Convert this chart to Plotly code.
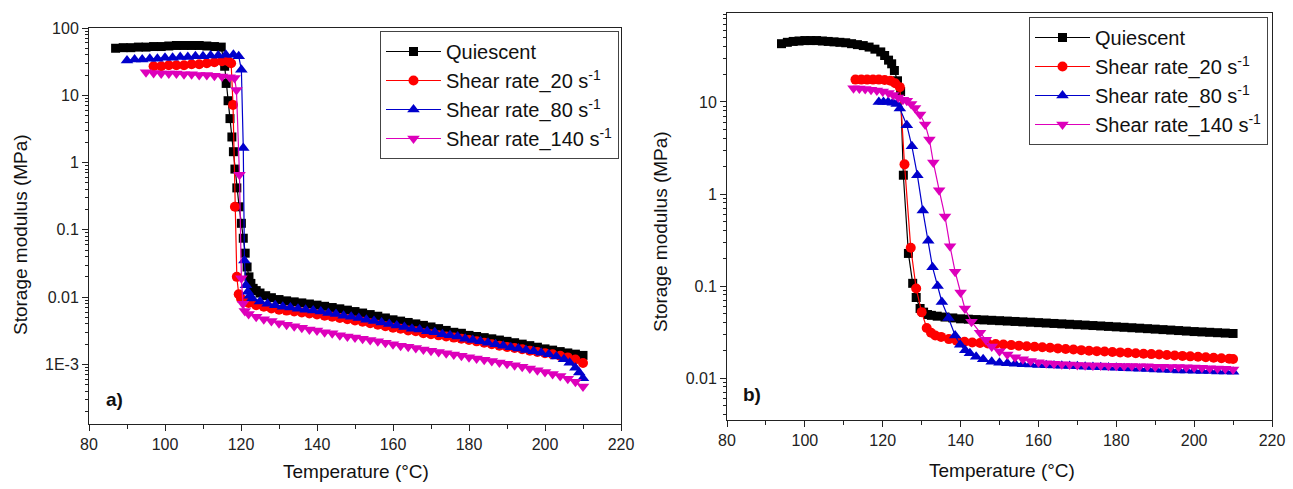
import plotly.graph_objects as go

# ---------------- Panel a) ----------------
qa_T = [87, 89, 91, 93, 95, 97, 99, 101, 103, 105, 107, 109, 111, 113, 114.8,
        115.7, 116.1, 116.6, 117.1, 117.6, 118.0, 118.4, 118.9, 119.5, 120.1,
        120.6, 121.1, 121.6, 122.1, 122.6, 123.2, 124, 125, 126.5, 128, 130,
        132, 134, 136, 138, 140, 142, 144, 146, 148, 150, 152, 154, 156, 158,
        160, 162, 164, 166, 168, 170, 172, 174, 176, 178, 180, 182, 184, 186,
        188, 190, 192, 194, 196, 198, 200, 202, 204, 206, 208, 210]
qa_G = [50, 51, 51, 52, 52, 53, 53, 54, 55, 55, 55, 55, 54, 53, 52,
        27, 15, 8.3, 4.5, 2.4, 1.45, 0.8, 0.42, 0.22, 0.125,
        0.075, 0.045, 0.028, 0.02, 0.016, 0.0135, 0.0125, 0.0115, 0.0105, 0.0098, 0.0092,
        0.0088, 0.0085, 0.0082, 0.0079, 0.0076, 0.0073, 0.0070, 0.0067, 0.0064, 0.0061, 0.0058, 0.0055, 0.0052, 0.0049,
        0.0046, 0.0044, 0.0042, 0.0040, 0.0038, 0.0036, 0.0034, 0.0032, 0.0030, 0.0029, 0.0027, 0.0026, 0.0025, 0.0024,
        0.0023, 0.0022, 0.0021, 0.0020, 0.0019, 0.0018, 0.0017, 0.00163, 0.00155, 0.00148, 0.00142, 0.00136]

ra_T = [97, 99, 101, 103, 105, 107, 109, 111, 113, 115, 116.6, 117.4, 117.9,
        118.4, 118.9, 119.4, 120.0, 121, 122, 124, 126, 128, 130, 132, 134,
        136, 138, 140, 142, 144, 146, 148, 150, 152, 154, 156, 158, 160, 162,
        164, 166, 168, 170, 172, 174, 176, 178, 180, 182, 184, 186, 188, 190,
        192, 194, 196, 198, 200, 202, 204, 206, 208, 210]
ra_G = [27, 27, 28, 28, 28, 29, 29, 30, 31, 32, 32, 30, 7.2,
        0.22, 0.020, 0.011, 0.0095, 0.0088, 0.0082, 0.0076, 0.0072, 0.0068, 0.0065, 0.0063, 0.0061,
        0.0059, 0.0057, 0.0055, 0.0053, 0.0051, 0.0049, 0.0047, 0.0045, 0.0043, 0.0041, 0.0039, 0.0037, 0.0035, 0.0034,
        0.0032, 0.0031, 0.0029, 0.0028, 0.0027, 0.0026, 0.0025, 0.0024, 0.0023, 0.0022, 0.0021, 0.0020, 0.0019, 0.00182,
        0.00175, 0.00168, 0.0016, 0.00153, 0.00147, 0.00141, 0.00134, 0.00127, 0.00118, 0.00105]

ba_T = [90, 92, 94, 96, 98, 100, 102, 104, 106, 108, 110, 112, 114, 116, 118,
        119.4, 120.1, 120.6, 120.9, 121.3, 121.8, 122.3, 123, 125, 127, 129,
        131, 133, 135, 137, 139, 141, 143, 145, 147, 149, 151, 153, 155, 157,
        159, 161, 163, 165, 167, 169, 171, 173, 175, 177, 179, 181, 183, 185,
        187, 189, 191, 193, 195, 197, 199, 201, 203, 205, 206.5, 208, 209, 210]
ba_G = [33, 34, 34, 35, 35, 36, 36, 37, 37, 38, 38, 39, 39, 40, 40,
        38, 24, 1.65, 0.035, 0.015, 0.012, 0.0105, 0.0095, 0.0086, 0.0080, 0.0076,
        0.0072, 0.0070, 0.0067, 0.0065, 0.0063, 0.0061, 0.0058, 0.0056, 0.0053, 0.0051, 0.0049, 0.0046, 0.0044, 0.0042,
        0.0040, 0.0038, 0.0036, 0.0034, 0.0033, 0.0031, 0.0030, 0.0028, 0.0027, 0.0026, 0.0024, 0.0023, 0.0022, 0.0021,
        0.0020, 0.0019, 0.0018, 0.00172, 0.00164, 0.00157, 0.00149, 0.00141, 0.00131, 0.00119, 0.00106, 0.00089, 0.00076, 0.00062]

ma_T = [95, 97, 99, 101, 103, 105, 107, 109, 111, 113, 115, 117, 118.3, 118.8,
        119.6, 120.1, 120.5, 121, 122, 124, 126, 128, 130, 132, 134, 136, 138,
        140, 142, 144, 146, 148, 150, 152, 154, 156, 158, 160, 162, 164, 166,
        168, 170, 172, 174, 176, 178, 180, 182, 184, 186, 188, 190, 192, 194,
        196, 198, 200, 202, 204, 206, 208, 210]
ma_G = [22, 21.5, 21, 21, 21, 20.5, 20.5, 20, 20, 19.5, 19, 18.5, 18, 12,
        0.66, 0.019, 0.0080, 0.0062, 0.0056, 0.0051, 0.0047, 0.0044, 0.0041, 0.0039, 0.0037, 0.0035, 0.0033,
        0.0032, 0.0030, 0.0029, 0.0027, 0.0026, 0.0025, 0.0024, 0.0023, 0.0022, 0.0021, 0.0020, 0.0019, 0.00183, 0.00175,
        0.00167, 0.0016, 0.00153, 0.00146, 0.0014, 0.00134, 0.00128, 0.00122, 0.00117, 0.00112, 0.00107, 0.00102, 0.00097, 0.00092,
        0.00087, 0.00082, 0.00077, 0.00072, 0.00067, 0.00061, 0.00055, 0.00047]

# ---------------- Panel b) ----------------
qb_T = [94, 95.5, 97, 98.5, 100, 101.5, 103, 104.5, 106, 107.5, 109, 110.5, 112,
        113.5, 115, 116.5, 118, 119.5, 120.5, 121.5, 122.3, 123.0, 123.8, 124.6,
        125.3, 126.6, 127.7, 128.6, 129.6, 130.5, 131.5, 132.5, 134, 136, 138, 140,
        142, 144, 146, 148, 150, 152, 154, 156, 158, 160, 162, 164, 166, 168, 170,
        172, 174, 176, 178, 180, 182, 184, 186, 188, 190, 192, 194, 196, 198, 200,
        202, 204, 206, 208, 210]
qb_G = [43, 44.5, 45.5, 46, 46.5, 46.5, 46.5, 46, 45.5, 45, 44.5, 44, 43,
        42, 41, 39.5, 37.5, 35, 32, 28.5, 26, 22, 17, 13,
        1.6, 0.226, 0.107, 0.075, 0.057, 0.052, 0.049, 0.048, 0.047, 0.046, 0.045, 0.044,
        0.0436, 0.0432, 0.0428, 0.0424, 0.042, 0.0416, 0.0412, 0.0408, 0.0404, 0.040, 0.0396, 0.0392, 0.0388, 0.0384, 0.038,
        0.0376, 0.0372, 0.0368, 0.0364, 0.036, 0.0356, 0.0352, 0.0348, 0.0344, 0.034, 0.0336, 0.0332, 0.0328, 0.0324, 0.032,
        0.0317, 0.0314, 0.0311, 0.0308, 0.0305]

rb_T = [113, 114.5, 116, 117.5, 119, 120.5, 122, 123.2, 124.4, 125.6, 127.2,
        128.6, 130, 131.3, 132.4, 133.5, 135, 137, 139, 141, 143, 145, 147, 149,
        151, 153, 155, 157, 159, 161, 163, 165, 167, 169, 171, 173, 175, 177,
        179, 181, 183, 185, 187, 189, 191, 193, 195, 197, 199, 201, 203, 205,
        207, 209, 210]
rb_G = [17.5, 17.5, 17.5, 17.5, 17.5, 17.3, 17, 16, 14.5, 2.1, 0.26,
        0.094, 0.052, 0.035, 0.031, 0.029, 0.028, 0.0265, 0.0255, 0.0248, 0.0243, 0.024, 0.0237, 0.0234,
        0.0231, 0.0228, 0.0225, 0.0222, 0.0219, 0.0216, 0.0213, 0.021, 0.0207, 0.0204, 0.0201, 0.0198, 0.0196, 0.0194,
        0.0192, 0.019, 0.0188, 0.0186, 0.0184, 0.0182, 0.018, 0.0178, 0.0176, 0.0174, 0.0172, 0.017, 0.0168, 0.0166,
        0.0164, 0.0162, 0.0161]

bb_T = [119, 120.2, 121.4, 122.6, 123.6, 124.4, 126.2, 127.5, 128.9, 130.3,
        131.7, 132.8, 134.1, 135.2, 136.9, 138.6, 139.9, 141.2, 142.4, 144,
        145.8, 148, 150, 152, 154, 156, 158, 160, 162, 164, 166, 168, 170, 172,
        174, 176, 178, 180, 182, 184, 186, 188, 190, 192, 194, 196, 198, 200,
        202, 204, 206, 208, 210]
bb_G = [10, 10, 10, 9.8, 9.5, 8.5, 5.6, 3.3, 1.6, 0.66,
        0.31, 0.16, 0.10, 0.067, 0.045, 0.029, 0.023, 0.020, 0.0186, 0.017,
        0.016, 0.015, 0.0147, 0.0145, 0.0143, 0.0141, 0.014, 0.0139, 0.0138, 0.0137, 0.0136, 0.0135, 0.0134, 0.0133,
        0.0132, 0.0131, 0.013, 0.0129, 0.0128, 0.0127, 0.0126, 0.0125, 0.0124, 0.0123, 0.0122, 0.0121, 0.0121, 0.012,
        0.0119, 0.0119, 0.0118, 0.0118, 0.0117]

mb_T = [112.5, 114, 115.5, 117, 118.5, 120, 121.5, 122.7, 124, 125.2, 126.2,
        127.3, 128.3, 129.6, 130.9, 132.0, 133.0, 134.5, 136.0, 137.3, 138.6,
        140.0, 141.1, 142.8, 145, 146.5, 148, 150, 152, 154, 156, 158, 160, 162,
        164, 166, 168, 170, 172, 174, 176, 178, 180, 182, 184, 186, 188, 190,
        192, 194, 196, 198, 200, 202, 204, 206, 208, 210]
mb_G = [14.1, 14, 13.8, 13.6, 13.3, 13, 12.5, 11.9, 11.2, 10.6, 10.3,
        9.5, 8.6, 7.3, 5.7, 3.9, 2.2, 1.1, 0.57, 0.27, 0.143,
        0.085, 0.057, 0.041, 0.031, 0.026, 0.022, 0.0195, 0.018, 0.0168, 0.016, 0.0153, 0.0148, 0.0145,
        0.0143, 0.0141, 0.014, 0.0139, 0.0138, 0.0137, 0.0137, 0.0136, 0.0136, 0.0135, 0.0135, 0.0134, 0.0134, 0.0133,
        0.0133, 0.0132, 0.0132, 0.0131, 0.013, 0.0129, 0.0128, 0.0127, 0.0126, 0.0124]

names = ["Quiescent", "Shear rate_20 s<sup>-1</sup>", "Shear rate_80 s<sup>-1</sup>",
         "Shear rate_140 s<sup>-1</sup>"]
colors = ["#000000", "#FF0000", "#0000CC", "#DD00BB"]
symbols = ["square", "circle", "triangle-up", "triangle-down"]
msizes = [9, 10, 11, 11]

W, H = 1293, 489
FONT = "Arial, 'Liberation Sans', sans-serif"


def px_x(p):
    return p / W


def px_y(p):
    return 1 - p / H


fig = go.Figure()
panel_a = [(qa_T, qa_G), (ra_T, ra_G), (ba_T, ba_G), (ma_T, ma_G)]
panel_b = [(qb_T, qb_G), (rb_T, rb_G), (bb_T, bb_G), (mb_T, mb_G)]

for i, (t, g) in enumerate(panel_a):
    fig.add_trace(go.Scatter(x=t, y=g, name=names[i], mode="lines+markers",
                             line=dict(color=colors[i], width=1.2),
                             marker=dict(symbol=symbols[i], size=msizes[i], color=colors[i]),
                             xaxis="x", yaxis="y", legend="legend"))
for i, (t, g) in enumerate(panel_b):
    fig.add_trace(go.Scatter(x=t, y=g, name=names[i], mode="lines+markers",
                             line=dict(color=colors[i], width=1.2),
                             marker=dict(symbol=symbols[i], size=msizes[i], color=colors[i]),
                             xaxis="x2", yaxis="y2", legend="legend2"))

axcol = "#222222"
minor_y = [m * 10 ** e for e in range(-5, 3) for m in range(2, 10)]

xcommon = dict(range=[80, 220], tick0=80, dtick=20, ticks="outside", ticklen=6,
               tickwidth=1, tickcolor=axcol, showline=True, linecolor=axcol, linewidth=1,
               mirror=True, showgrid=False, zeroline=False, automargin=False,
               tickfont=dict(family=FONT, size=16, color="#222"),
               minor=dict(dtick=10, ticks="outside", ticklen=3.5, tickcolor=axcol, showgrid=False))
ycommon = dict(type="log", ticks="outside", ticklen=6, tickwidth=1, tickcolor=axcol,
               showline=True, linecolor=axcol, linewidth=1, mirror=True, showgrid=False,
               zeroline=False, automargin=False,
               tickfont=dict(family=FONT, size=16, color="#222"),
               minor=dict(tickmode="array", tickvals=minor_y, ticks="outside", ticklen=3.5,
                          tickcolor=axcol, showgrid=False))

ann_font = dict(family=FONT, size=19, color="#111")


def ann(text, x, y, angle=0):
    return dict(text=text, x=px_x(x), y=px_y(y), xref="paper", yref="paper",
                xanchor="center", yanchor="middle", textangle=angle,
                showarrow=False, font=ann_font)


fig.update_layout(
    width=W, height=H, margin=dict(l=0, r=0, t=0, b=0, pad=0), autosize=False,
    paper_bgcolor="white", plot_bgcolor="white",
    font=dict(family=FONT, color="#111"),
    xaxis=dict(domain=[px_x(89), px_x(621)], anchor="y", **xcommon),
    yaxis=dict(domain=[px_y(424), px_y(28)], anchor="x", range=[-3.886, 2],
               tickvals=[1e-3, 0.01, 0.1, 1, 10, 100],
               ticktext=["1E-3", "0.01", "0.1", "1", "10", "100"], **ycommon),
    xaxis2=dict(domain=[px_x(727), px_x(1272)], anchor="y2", **xcommon),
    yaxis2=dict(domain=[px_y(420), px_y(13)], anchor="x2", range=[-2.456, 1.967],
                tickvals=[0.01, 0.1, 1, 10], ticktext=["0.01", "0.1", "1", "10"], **ycommon),
    legend=dict(x=px_x(619), y=px_y(31), xanchor="right", yanchor="top",
                bgcolor="white", bordercolor="#444", borderwidth=1,
                font=dict(family=FONT, size=20, color="#111"), itemwidth=55,
                tracegroupgap=0),
    legend2=dict(x=px_x(1268), y=px_y(17), xanchor="right", yanchor="top",
                 bgcolor="white", bordercolor="#444", borderwidth=1,
                 font=dict(family=FONT, size=20, color="#111"), itemwidth=55,
                 tracegroupgap=0),
    annotations=[
        ann("Storage modulus (MPa)", 21, 235, -90),
        ann("Storage modulus (MPa)", 660, 232, -90),
        ann("Temperature (°C)", 356, 471),
        ann("Temperature (°C)", 1002, 470),
        ann("<b>a)</b>", 114, 399),
        ann("<b>b)</b>", 752, 394),
    ],
)

fig.write_html("out.html")
